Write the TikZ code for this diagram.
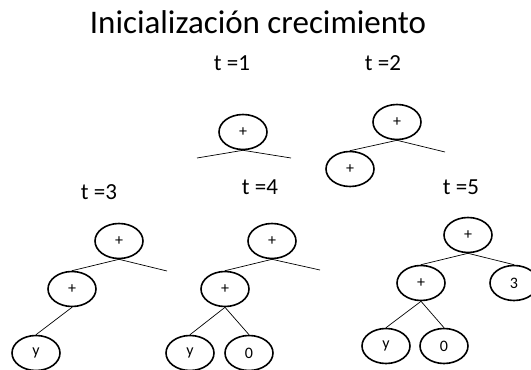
\documentclass[tikz,border=0pt]{standalone}
\usepackage{fontspec}
\setmainfont{Carlito}
\usetikzlibrary{shapes.geometric}

\tikzset{
  gnode/.style={ellipse,draw,line width=1.6pt,minimum width=48pt,minimum height=35pt,inner sep=0pt,font=\fontsize{16}{18}\selectfont},
  branch/.style={line width=0.7pt},
  steplabel/.style={font=\fontsize{23}{26}\selectfont}
}

\begin{document}
\begin{tikzpicture}[x=1pt,y=-1pt]
\useasboundingbox (0,0) rectangle (531,370);
\clip (0,0) rectangle (531,370);
\node[font=\fontsize{33}{38}\selectfont] (title) at (258,22) {Inicialización crecimiento};
\foreach \lab/\xx/\yy [count=\i] in {1/232/63,2/383/63,3/99/192,4/260/187,5/461/187}{
  \node[steplabel] (lab\i) at (\xx,\yy) {t =\lab};
}
% t=1
\node[gnode] (a1) at (243,132) {+};
\coordinate (a1l) at (197,158);
\coordinate (a1r) at (291,158);
\draw[branch] (a1l) -- (a1.south) -- (a1r);
% t=2
\node[gnode] (b1) at (397,122) {+};
\node[gnode] (b2) at (350,169) {+};
\coordinate (b1r) at (445,152);
\draw[branch] (b2.north) -- (b1.south) -- (b1r);
% t=3
\node[gnode] (c1) at (119,241) {+};
\node[gnode] (c2) at (72,289) {+};
\node[gnode] (c3) at (36,353) {y};
\coordinate (c1r) at (167,271);
\draw[branch] (c2.north) -- (c1.south) -- (c1r);
\draw[branch] (c2.south) -- (c3.north);
% t=4
\node[gnode] (d1) at (272,241) {+};
\node[gnode] (d2) at (225,289) {+};
\node[gnode] (d3) at (190,353) {y};
\node[gnode] (d4) at (249,353) {0};
\coordinate (d1r) at (320,270);
\draw[branch] (d2.north) -- (d1.south) -- (d1r);
\draw[branch] (d3.north) -- (d2.south) -- (d4.north);
% t=5
\node[gnode] (e1) at (468,235) {+};
\node[gnode] (e2) at (421,283) {+};
\node[gnode] (e3) at (514,283) {3};
\node[gnode] (e4) at (386,346) {y};
\node[gnode] (e5) at (444,346) {0};
\draw[branch] (e2.north) -- (e1.south) -- (e3.north);
\draw[branch] (e4.north) -- (e2.south) -- (e5.north);
\end{tikzpicture}
\end{document}
